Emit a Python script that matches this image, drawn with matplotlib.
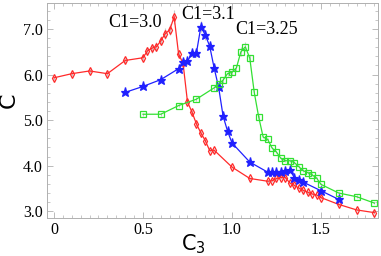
import matplotlib.pyplot as plt
from matplotlib.ticker import MultipleLocator, FixedLocator

# C1 = 3.0 (red)
x_red = [0, 0.1, 0.2, 0.3, 0.4, 0.5, 0.525, 0.55, 0.575, 0.6, 0.625, 0.65, 0.675,
         0.7, 0.725, 0.75, 0.775, 0.8, 0.825, 0.85, 0.875, 0.9, 1.0, 1.1, 1.2,
         1.225, 1.25, 1.275, 1.3, 1.325, 1.35, 1.375, 1.4, 1.425, 1.45, 1.475,
         1.5, 1.6, 1.7, 1.8]
y_red = [5.93, 6.02, 6.08, 6.02, 6.31, 6.37, 6.52, 6.58, 6.61, 6.74, 6.90, 6.98, 7.27,
         6.45, 6.25, 5.40, 5.18, 4.92, 4.72, 4.55, 4.33, 4.34, 3.97, 3.72, 3.66,
         3.67, 3.72, 3.74, 3.74, 3.62, 3.57, 3.51, 3.46, 3.42, 3.38, 3.36,
         3.30, 3.15, 3.03, 2.97]
e_red = [0.04, 0.04, 0.05, 0.05, 0.05, 0.06, 0.08, 0.10, 0.10, 0.10, 0.12, 0.12, 0.15,
         0.06, 0.05, 0.04, 0.04, 0.04, 0.04, 0.03, 0.03, 0.03, 0.03, 0.03, 0.03,
         0.03, 0.03, 0.03, 0.03, 0.03, 0.03, 0.03, 0.03, 0.03, 0.03, 0.03,
         0.03, 0.03, 0.03, 0.03]

# C1 = 3.1 (blue)
x_blue = [0.4, 0.5, 0.6, 0.7, 0.725, 0.75, 0.775, 0.8, 0.825, 0.85, 0.875, 0.9,
          0.925, 0.95, 0.975, 1.0, 1.1, 1.2, 1.225, 1.25, 1.275, 1.3, 1.325,
          1.35, 1.375, 1.4, 1.5, 1.6]
y_blue = [5.61, 5.74, 5.89, 6.13, 6.28, 6.29, 6.47, 6.47, 7.05, 6.87, 6.62, 6.14,
          5.72, 5.09, 4.76, 4.50, 4.08, 3.86, 3.86, 3.86, 3.87, 3.88, 3.91,
          3.74, 3.69, 3.64, 3.45, 3.26]
e_blue = [0.04, 0.05, 0.06, 0.06, 0.07, 0.07, 0.08, 0.08, 0.12, 0.10, 0.08, 0.06,
          0.05, 0.04, 0.04, 0.04, 0.03, 0.03, 0.03, 0.03, 0.03, 0.03, 0.04,
          0.03, 0.03, 0.03, 0.03, 0.03]

# C1 = 3.25 (green)
x_green = [0.5, 0.6, 0.7, 0.8, 0.9, 0.925, 0.95, 0.975, 1.0, 1.025, 1.05, 1.075,
           1.1, 1.125, 1.15, 1.175, 1.2, 1.225, 1.25, 1.275, 1.3, 1.325, 1.35,
           1.375, 1.4, 1.425, 1.45, 1.475, 1.5, 1.6, 1.7, 1.8]
y_green = [5.13, 5.13, 5.32, 5.46, 5.71, 5.79, 5.88, 6.02, 6.05, 6.15, 6.50, 6.61,
           6.36, 5.61, 5.07, 4.63, 4.58, 4.39, 4.30, 4.16, 4.11, 4.11, 4.07,
           3.98, 3.89, 3.85, 3.80, 3.73, 3.59, 3.40, 3.32, 3.18]
e_green = [0.03, 0.03, 0.04, 0.04, 0.05, 0.05, 0.06, 0.06, 0.06, 0.07, 0.10, 0.10,
           0.08, 0.05, 0.04, 0.03, 0.03, 0.03, 0.03, 0.03, 0.03, 0.03, 0.03,
           0.03, 0.03, 0.03, 0.03, 0.03, 0.03, 0.03, 0.03, 0.03]

labels = ["C1=3.0", "C1=3.1", "C1=3.25"]
label_pos = [(0.455, 7.15), (0.865, 7.31), (1.197, 6.98)]

fig = plt.figure(figsize=(3.81, 2.56), dpi=100)
ax = fig.add_axes([0.123, 0.148, 0.869, 0.840])

series = [
    (x_red, y_red, e_red, '#ff2a2a', 'd', 4.0, 'none'),
    (x_blue, y_blue, e_blue, '#2020ff', '*', 6.5, '#2020ff'),
    (x_green, y_green, e_green, '#33e033', 's', 5.0, 'none'),
]
for xs, ys, es, c, m, ms, fc in series:
    ax.errorbar(xs, ys, yerr=es, fmt='none', ecolor='#c8c8c8', elinewidth=0.8, zorder=1)
    ax.plot(xs, ys, color=c, marker=m, ms=ms, mfc=fc, mec=c, mew=0.9, lw=0.9, zorder=2)

for txt, (tx, ty) in zip(labels, label_pos):
    ax.text(tx, ty, txt, ha='center', va='center', fontsize=13,
            family='Liberation Serif')

ax.set_xlim(-0.04, 1.82)
ax.set_ylim(2.85, 7.57)
ax.xaxis.set_major_locator(FixedLocator([0, 0.5, 1.0, 1.5]))
ax.set_xticklabels(["0", "0.5", "1.0", "1.5"])
ax.yaxis.set_major_locator(FixedLocator([3, 4, 5, 6, 7]))
ax.set_yticklabels(["3.0", "4.0", "5.0", "6.0", "7.0"])
ax.xaxis.set_minor_locator(MultipleLocator(0.05))
ax.yaxis.set_minor_locator(MultipleLocator(0.2))

ax.tick_params(which='both', direction='in', top=True, right=True, color='#b0b0b0')
ax.tick_params(which='major', length=4, width=0.6, labelsize=11.5, pad=3)
ax.tick_params(which='minor', length=2, width=0.5)
for lab in ax.get_xticklabels() + ax.get_yticklabels():
    lab.set_family('Liberation Serif')
for sp in ax.spines.values():
    sp.set_color('#b0b0b0')
    sp.set_linewidth(0.7)

fig.text(0.024, 0.61, "C", rotation=90, ha='center', va='center', fontsize=16,
         family='DejaVu Sans')
fig.text(0.507, 0.045, "C$_3$", ha='center', va='center', fontsize=15,
         family='DejaVu Sans')

fig.savefig("out.png", dpi=100)
